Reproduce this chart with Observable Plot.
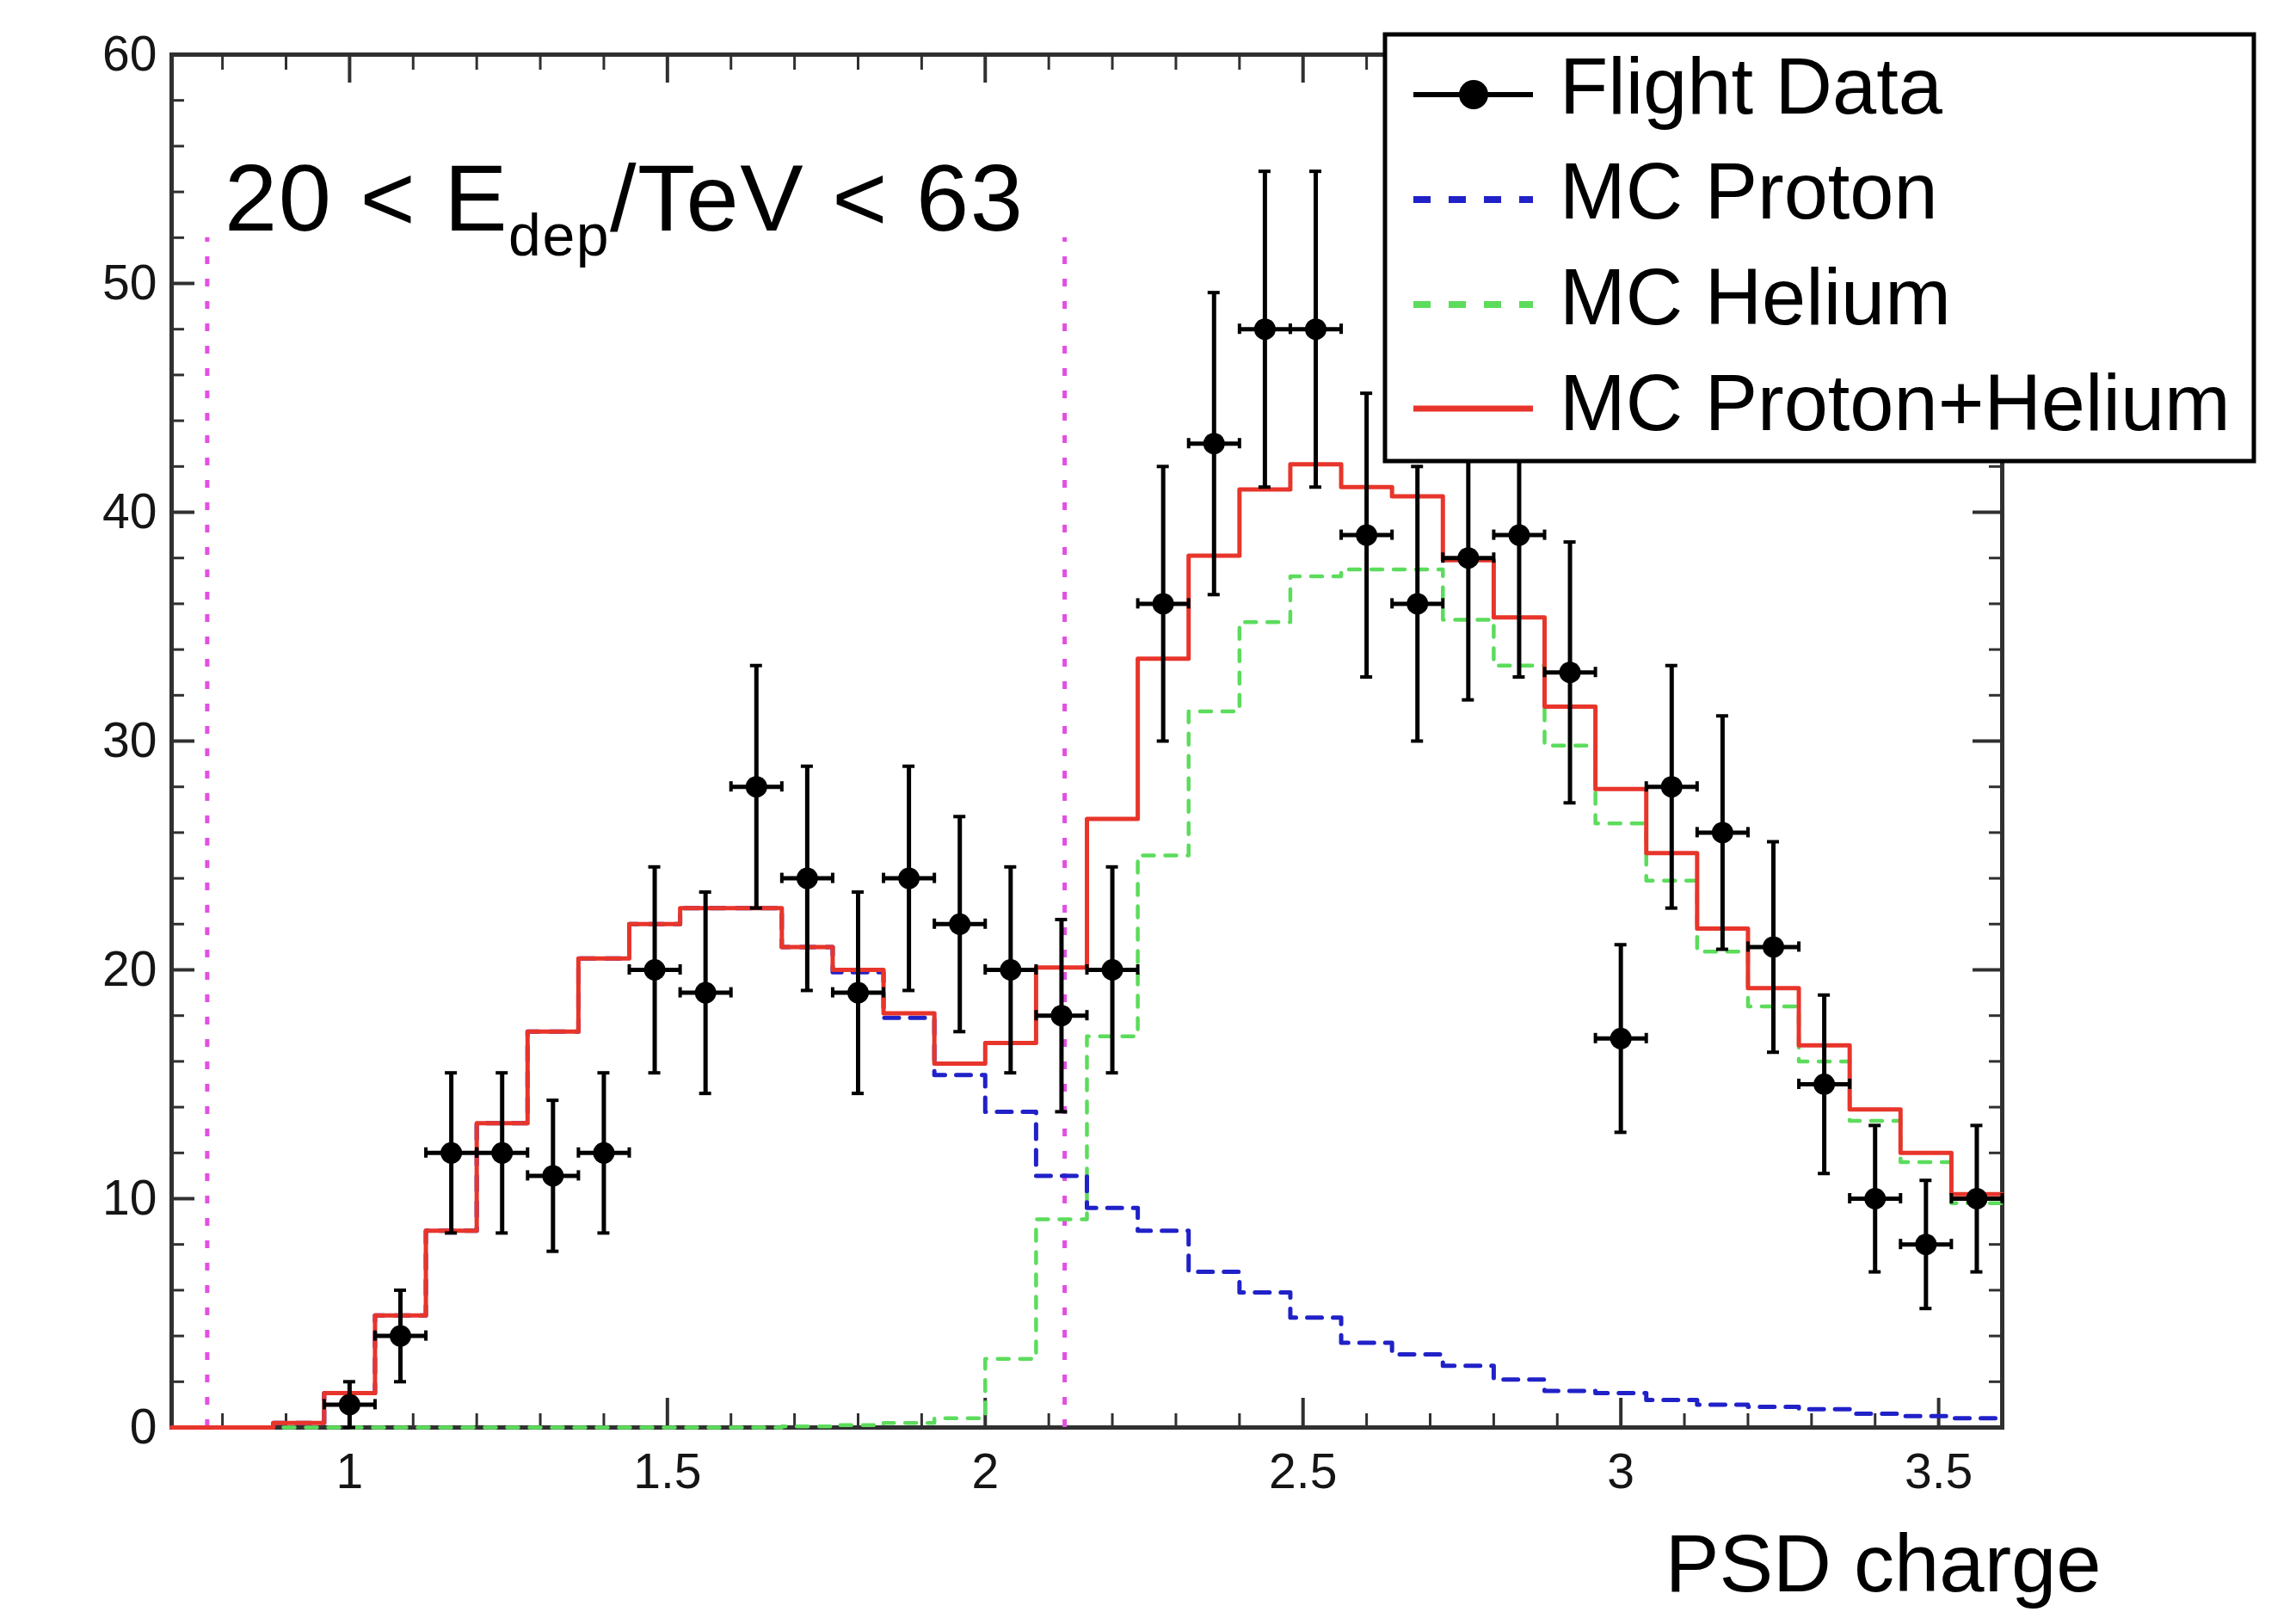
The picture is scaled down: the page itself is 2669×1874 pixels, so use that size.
<!DOCTYPE html>
<html>
<head>
<meta charset="utf-8">
<script src="https://cdn.jsdelivr.net/npm/d3@7"></script>
<script src="https://cdn.jsdelivr.net/npm/@observablehq/plot@0.6"></script>
<style>
  html, body { margin: 0; padding: 0; background: #fff; }
  #chart { position: relative; width: 2669px; height: 1874px; }
</style>
</head>
<body>
<div id="chart"></div>
<script>
// ---------- data ----------
// histogram bin edges (PSD charge)
const binEdges = [0.72,0.80,0.88,0.96,1.04,1.12,1.20,1.28,1.36,1.44,1.52,1.60,1.68,1.76,1.84,1.92,2.00,2.08,2.16,2.24,2.32,2.40,2.48,2.56,2.64,2.72,2.80,2.88,2.96,3.04,3.12,3.20,3.28,3.36,3.44,3.52,3.60];
// MC Proton (blue dashed)
const mcProton = [0,0,0.2,1.5,4.9,8.6,13.3,17.3,20.5,22.0,22.7,22.7,21.0,19.9,17.9,15.4,13.8,11.0,9.6,8.6,6.8,5.9,4.8,3.7,3.2,2.7,2.1,1.6,1.5,1.2,1.0,0.9,0.8,0.6,0.5,0.4];
// MC Helium (green dashed)
const mcHelium = [0,0,0,0,0,0,0,0,0,0,0,0,0.05,0.1,0.2,0.4,3.0,9.1,17.1,25.0,31.3,35.2,37.2,37.5,37.5,35.3,33.3,29.8,26.4,23.9,20.8,18.4,16.0,13.4,11.6,9.8];
// MC Proton+Helium (red solid)
const mcSum = [0,0,0.2,1.5,4.9,8.6,13.3,17.3,20.5,22.0,22.7,22.7,21.0,20.0,18.1,15.9,16.8,20.1,26.6,33.6,38.1,41.0,42.1,41.1,40.7,37.9,35.4,31.5,27.9,25.1,21.8,19.2,16.7,13.9,12.0,10.2];
// Flight data points
const dataX = [1.00,1.08,1.16,1.24,1.32,1.40,1.48,1.56,1.64,1.72,1.80,1.88,1.96,2.04,2.12,2.20,2.28,2.36,2.44,2.52,2.60,2.68,2.76,2.84,2.92,3.00,3.08,3.16,3.24,3.32,3.40,3.48,3.56];
const dataY = [1,4,12,12,11,12,20,19,28,24,19,24,22,20,18,20,36,43,48,48,39,36,38,39,33,17,28,26,21,15,10,8,10];
const dataErr = [1.0,2.0,3.5,3.5,3.3,3.5,4.5,4.4,5.3,4.9,4.4,4.9,4.7,4.5,4.2,4.5,6.0,6.6,6.9,6.9,6.2,6.0,6.2,6.2,5.7,4.1,5.3,5.1,4.6,3.9,3.2,2.8,3.2];
const halfBin = 0.04;
// selection cut lines (magenta dotted)
const cutLines = [0.776, 2.125];
const cutTop = 52;
// axis ticks
const xMajor = [1, 1.5, 2, 2.5, 3, 3.5];
const xMinor = [0.8,0.9,1.1,1.2,1.3,1.4,1.6,1.7,1.8,1.9,2.1,2.2,2.3,2.4,2.6,2.7,2.8,2.9,3.1,3.2,3.3,3.4];
const yMajor = [0,10,20,30,40,50,60];
const yMinor = [2,4,6,8,12,14,16,18,22,24,26,28,32,34,36,38,42,44,46,48,52,54,56,58];
const legendLabels = ["Flight Data", "MC Proton", "MC Helium", "MC Proton+Helium"];
const xTitle = "PSD charge";

// ---------- layout ----------
const W = 2669, H = 1874;
const mL = 199, mR = 342, mT = 63, mB = 215;
const pW = W - mL - mR, pH = H - mT - mB;
const FONT = "'Liberation Sans', Arial, Helvetica, sans-serif";
const RED = "#e8352b", BLUE = "#2121c8", GREEN = "#5cdc5c", MAG = "#e24fe2", AX = "#303030";

// step table for a histogram
function steps(vals) {
  const pts = vals.map((v, i) => ({x: binEdges[i], y: v}));
  pts.push({x: binEdges[binEdges.length - 1], y: vals[vals.length - 1]});
  return pts;
}
const points = dataX.map((x, i) => ({x, y: dataY[i], e: dataErr[i]}));

// annotation (with subscript) drawn as a render mark
function annotation() {
  const t = d3.create("svg:text")
    .attr("x", 261).attr("y", 268).attr("text-anchor", "start")
    .attr("letter-spacing", 1.5)
    .attr("font-family", FONT).attr("font-size", 110).attr("fill", "#000");
  t.append("tspan").text("20 < E");
  t.append("tspan").attr("font-size", 68).attr("dy", 29).text("dep");
  t.append("tspan").attr("dy", -29).text("/TeV < 63");
  return t.node();
}

function legend() {
  const g = d3.create("svg:g").attr("font-family", FONT).attr("text-anchor", "start");
  g.append("rect").attr("x", 1610).attr("y", 40).attr("width", 1010).attr("height", 496)
    .attr("fill", "#fff").attr("stroke", "#000").attr("stroke-width", 5);
  const rows = [
    {y: 110, base: 132, stroke: "#000", dash: null, w: 6, dot: true},
    {y: 232, base: 254, stroke: BLUE, dash: "20,21", w: 8},
    {y: 354, base: 377, stroke: GREEN, dash: "20,21", w: 8},
    {y: 475, base: 500, stroke: RED, dash: null, w: 7}
  ];
  rows.forEach((r, i) => {
    g.append("line").attr("x1", 1643).attr("x2", 1782).attr("y1", r.y).attr("y2", r.y)
      .attr("stroke", r.stroke).attr("stroke-width", r.w)
      .attr("stroke-dasharray", r.dash);
    if (r.dot) g.append("circle").attr("cx", 1713).attr("cy", r.y).attr("r", 17).attr("fill", "#000");
    g.append("text").attr("x", 1813).attr("y", r.base).attr("font-size", 92).attr("fill", "#000")
      .text(legendLabels[i]);
  });
  return g.node();
}

const chart = Plot.plot({
  width: W, height: H,
  marginLeft: mL, marginRight: mR, marginTop: mT, marginBottom: mB,
  style: {fontFamily: FONT, fontSize: "57px", background: "#fff", color: "#151515", overflow: "visible"},
  x: {domain: [0.72, 3.6], ticks: xMajor, tickSize: 0, tickPadding: 30, label: null, tickFormat: d => String(d)},
  y: {domain: [0, 60], ticks: yMajor, tickSize: 0, tickPadding: 17, label: null, tickFormat: d => String(d)},
  marks: [
    // frame and inward ticks on all four sides
    Plot.frame({stroke: AX, strokeWidth: 5}),
    Plot.ruleY(yMajor, {y: d => d, insetRight: pW - 27, stroke: AX, strokeWidth: 4}),
    Plot.ruleY(yMinor, {y: d => d, insetRight: pW - 15, stroke: AX, strokeWidth: 3}),
    Plot.ruleY(yMajor, {y: d => d, insetLeft: pW - 34, stroke: AX, strokeWidth: 4}),
    Plot.ruleY(yMinor, {y: d => d, insetLeft: pW - 15, stroke: AX, strokeWidth: 3}),
    Plot.ruleX(xMajor, {x: d => d, insetTop: pH - 34, stroke: AX, strokeWidth: 4}),
    Plot.ruleX(xMinor, {x: d => d, insetTop: pH - 16, stroke: AX, strokeWidth: 3}),
    Plot.ruleX(xMajor, {x: d => d, insetBottom: pH - 33, stroke: AX, strokeWidth: 4}),
    Plot.ruleX(xMinor, {x: d => d, insetBottom: pH - 18, stroke: AX, strokeWidth: 3}),
    // cut lines
    Plot.ruleX(cutLines, {x: d => d, y1: 0, y2: cutTop, stroke: MAG, strokeWidth: 5, strokeDasharray: "9,17"}),
    // MC histograms
    Plot.line(steps(mcHelium), {x: "x", y: "y", curve: "step-after", stroke: GREEN, strokeWidth: 4.5, strokeDasharray: "13,13"}),
    Plot.line(steps(mcProton), {x: "x", y: "y", curve: "step-after", stroke: BLUE, strokeWidth: 5, strokeDasharray: "17,13"}),
    Plot.line(steps(mcSum), {x: "x", y: "y", curve: "step-after", stroke: RED, strokeWidth: 5}),
    // flight data error bars
    Plot.ruleX(points, {x: "x", y1: d => d.y - d.e, y2: d => d.y + d.e, stroke: "#000", strokeWidth: 5}),
    Plot.ruleY(points, {y: "y", x1: d => d.x - halfBin, x2: d => d.x + halfBin, stroke: "#000", strokeWidth: 5}),
    // caps
    Plot.ruleY(points, {y: d => d.y - d.e, x1: "x", x2: "x", insetLeft: -7, insetRight: -7, stroke: "#000", strokeWidth: 4}),
    Plot.ruleY(points, {y: d => d.y + d.e, x1: "x", x2: "x", insetLeft: -7, insetRight: -7, stroke: "#000", strokeWidth: 4}),
    Plot.ruleX(points, {x: d => d.x - halfBin, y1: "y", y2: "y", insetTop: -6, insetBottom: -6, stroke: "#000", strokeWidth: 4}),
    Plot.ruleX(points, {x: d => d.x + halfBin, y1: "y", y2: "y", insetTop: -6, insetBottom: -6, stroke: "#000", strokeWidth: 4}),
    Plot.dot(points, {x: "x", y: "y", r: 12.5, fill: "#000"}),
    // x-axis title
    Plot.text([xTitle], {frameAnchor: "bottom-right", text: d => d, textAnchor: "end", dx: 115, dy: 190, fontSize: 94, fill: "#000"}),
    annotation,
    legend
  ]
});
document.getElementById("chart").appendChild(chart);
</script>
</body>
</html>
